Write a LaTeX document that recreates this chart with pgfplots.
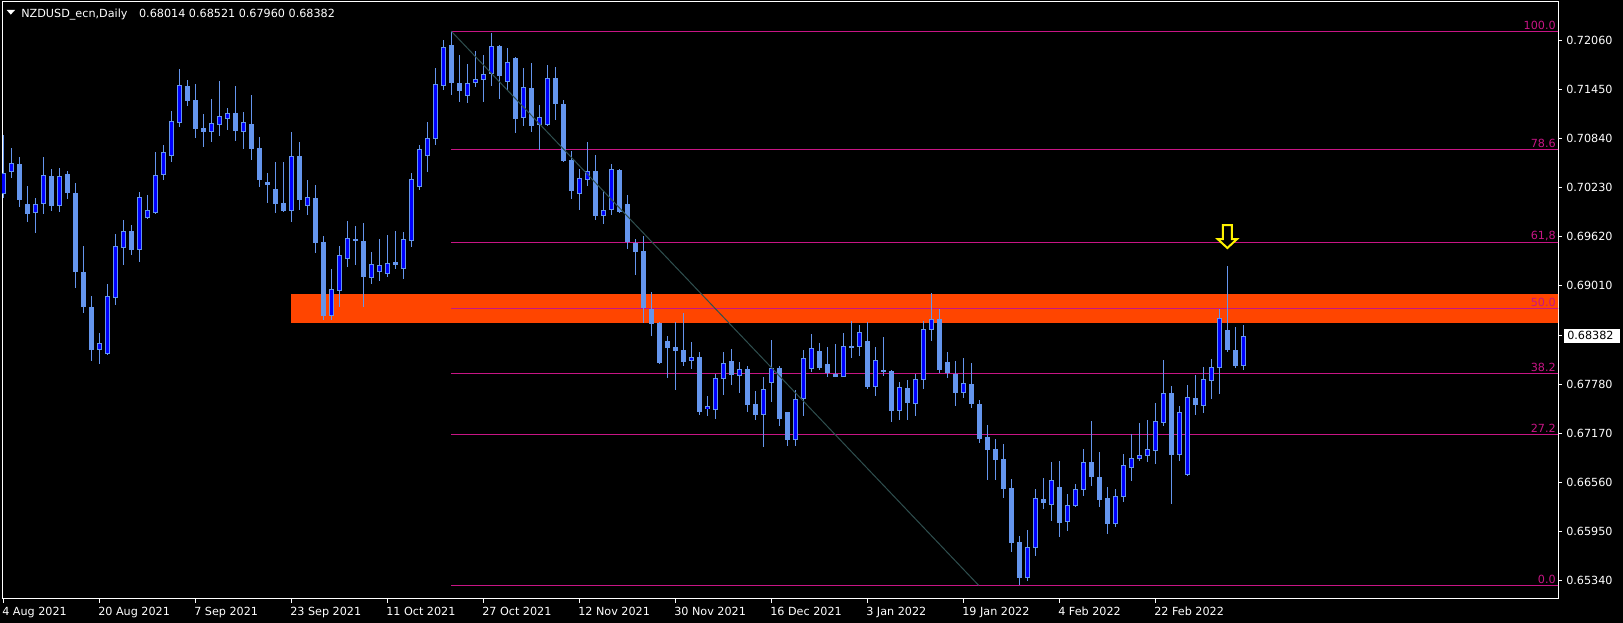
\documentclass[border=0pt]{standalone}
\usepackage{pgfplots}
\pgfplotsset{compat=1.18}
\usepackage{pgfplotstable}
\usepackage{fontspec}
\setmainfont{DejaVu Sans}

\definecolor{wick}{RGB}{100,149,237}
\definecolor{bullfill}{RGB}{0,0,255}
\definecolor{fibo}{RGB}{199,21,133}
\definecolor{zone}{RGB}{255,69,0}
\definecolor{trend}{RGB}{47,79,79}

\newcommand{\mtfont}{\fontsize{8.4}{10}\selectfont}
\tikzset{fibolabel/.style={font=\mtfont, text=fibo, anchor=south east, inner sep=0pt, xshift=-1.5pt, yshift=1.2pt}}
\pgfplotsset{candle/.style={draw=none, mark=none, error bars/.cd, y dir=both, y explicit, error mark=none}}

% daily bars, x = bar index (0 = 4 Aug 2021)
\pgfplotstableread{
x o h l c
0 0.70142 0.70880 0.70100 0.70415
1 0.70415 0.70714 0.70349 0.70527
4 0.69911 0.70092 0.69665 0.70018
5 0.70018 0.70602 0.69898 0.70378
7 0.69993 0.70469 0.69922 0.70378
12 0.68210 0.68413 0.68036 0.68301
13 0.68161 0.69035 0.68150 0.68874
14 0.68857 0.69649 0.68767 0.69495
15 0.69470 0.69823 0.69267 0.69689
17 0.69454 0.70171 0.69305 0.70105
18 0.69852 0.70130 0.69839 0.69943
19 0.69907 0.70668 0.69898 0.70378
20 0.70378 0.70755 0.70324 0.70664
21 0.70615 0.71174 0.70548 0.71050
22 0.71037 0.71700 0.70984 0.71506
26 0.70922 0.71328 0.70793 0.71030
27 0.71009 0.71552 0.70868 0.71117
28 0.71084 0.71216 0.70943 0.71154
30 0.70922 0.71166 0.70706 0.71042
36 0.69935 0.70918 0.69798 0.70619
38 0.69998 0.70321 0.69885 0.70110
41 0.68630 0.69214 0.68582 0.68965
42 0.68941 0.69500 0.68742 0.69388
43 0.69339 0.69813 0.69239 0.69600
46 0.69103 0.69425 0.69029 0.69274
47 0.69177 0.69587 0.69065 0.69264
48 0.69152 0.69636 0.69115 0.69290
50 0.69214 0.69674 0.69090 0.69587
51 0.69558 0.70407 0.69487 0.70329
52 0.70238 0.70756 0.70196 0.70702
53 0.70623 0.71042 0.70420 0.70839
54 0.70834 0.71713 0.70755 0.71510
55 0.71493 0.72061 0.71439 0.71974
58 0.71361 0.71763 0.71277 0.71527
59 0.71522 0.71925 0.71477 0.71572
60 0.71560 0.71875 0.71290 0.71643
61 0.71634 0.72148 0.71489 0.71987
63 0.71543 0.71962 0.71439 0.71788
65 0.71088 0.71713 0.70992 0.71477
67 0.71000 0.71253 0.70693 0.71111
68 0.71004 0.71750 0.70995 0.71589
72 0.70150 0.70458 0.69947 0.70345
73 0.70325 0.70793 0.70249 0.70432
75 0.69877 0.70183 0.69773 0.69947
76 0.69943 0.70519 0.69885 0.70453
86 0.68070 0.68311 0.67970 0.68119
88 0.67473 0.67634 0.67386 0.67510
89 0.67460 0.67908 0.67348 0.67858
90 0.67846 0.68182 0.67647 0.68045
92 0.67883 0.68057 0.67672 0.67970
95 0.67398 0.67871 0.67000 0.67721
96 0.67796 0.68331 0.67560 0.67983
99 0.67087 0.67714 0.67012 0.67602
100 0.67602 0.68207 0.67386 0.68107
101 0.67975 0.68406 0.67937 0.68228
105 0.67871 0.68418 0.67867 0.68257
107 0.68244 0.68518 0.68132 0.68431
109 0.67747 0.68244 0.67635 0.68082
112 0.67452 0.67809 0.67336 0.67747
114 0.67540 0.67908 0.67386 0.67846
115 0.67838 0.68568 0.67722 0.68468
116 0.68460 0.68915 0.68319 0.68592
120 0.67672 0.68107 0.67610 0.67796
128 0.65371 0.65968 0.65340 0.65757
129 0.65748 0.66478 0.65645 0.66366
131 0.66283 0.66814 0.66081 0.66590
133 0.66072 0.66416 0.65956 0.66279
134 0.66267 0.66540 0.66254 0.66478
135 0.66470 0.66975 0.66391 0.66814
139 0.66047 0.66478 0.66005 0.66391
140 0.66383 0.66913 0.66316 0.66776
141 0.66743 0.67158 0.66577 0.66863
142 0.66855 0.67299 0.66826 0.66901
143 0.66892 0.67336 0.66814 0.66975
144 0.66955 0.67547 0.66789 0.67324
145 0.67303 0.68082 0.67261 0.67672
147 0.66905 0.67510 0.66826 0.67435
148 0.66652 0.67771 0.66645 0.67622
150 0.67514 0.67995 0.67423 0.67846
151 0.67825 0.68094 0.67597 0.67995
152 0.67987 0.68716 0.67659 0.68604
155 0.68014 0.68521 0.67960 0.68382
}\bull

\pgfplotstableread{
x o h l c
2 0.70527 0.70602 0.69989 0.70076
3 0.70018 0.70246 0.69798 0.69898
6 0.70366 0.70457 0.69939 0.70001
8 0.70390 0.70428 0.70088 0.70163
9 0.70155 0.70279 0.68981 0.69180
10 0.69176 0.69499 0.68670 0.68744
11 0.68749 0.68874 0.68074 0.68210
16 0.69689 0.69761 0.69392 0.69454
23 0.71489 0.71560 0.71244 0.71307
24 0.71315 0.71514 0.70847 0.70959
25 0.70967 0.71142 0.70731 0.70922
29 0.71154 0.71490 0.70806 0.70930
31 0.71017 0.71378 0.70569 0.70706
32 0.70719 0.70856 0.70234 0.70321
33 0.70296 0.70408 0.70035 0.70258
34 0.70209 0.70545 0.69910 0.70022
35 0.70035 0.70545 0.69922 0.69935
37 0.70619 0.70793 0.69947 0.70074
39 0.70097 0.70258 0.69413 0.69537
40 0.69550 0.69624 0.68582 0.68630
44 0.69587 0.69750 0.69264 0.69562
45 0.69562 0.69787 0.68742 0.69115
49 0.69302 0.69687 0.69214 0.69264
56 0.71999 0.72170 0.71377 0.71527
57 0.71527 0.71875 0.71290 0.71431
62 0.71987 0.71999 0.71328 0.71614
64 0.71838 0.71845 0.70905 0.71079
66 0.71465 0.71775 0.70917 0.70992
69 0.71589 0.71726 0.71066 0.71265
70 0.71265 0.71315 0.70544 0.70557
71 0.70569 0.70681 0.70089 0.70183
74 0.70432 0.70632 0.69823 0.69873
77 0.70445 0.70452 0.69914 0.69927
78 0.70022 0.70130 0.69462 0.69545
79 0.69537 0.69587 0.69139 0.69425
80 0.69438 0.69624 0.68542 0.68729
81 0.68716 0.68928 0.68381 0.68530
82 0.68542 0.68555 0.68032 0.68045
83 0.68319 0.68381 0.67858 0.68231
84 0.68244 0.68555 0.67709 0.68194
85 0.68207 0.68667 0.68007 0.68057
87 0.68119 0.68182 0.67398 0.67435
91 0.68070 0.68219 0.67771 0.67896
93 0.67970 0.68007 0.67435 0.67523
94 0.67535 0.67696 0.67336 0.67398
97 0.67983 0.68007 0.67261 0.67348
98 0.67435 0.67440 0.67012 0.67087
102 0.68194 0.68294 0.67958 0.67983
103 0.68033 0.68244 0.67871 0.67921
104 0.67908 0.68282 0.67867 0.67871
106 0.68257 0.68568 0.68107 0.68232
108 0.68319 0.68555 0.67722 0.67747
110 0.67958 0.68369 0.67884 0.67933
111 0.67946 0.67958 0.67312 0.67448
113 0.67734 0.67834 0.67336 0.67548
117 0.68592 0.68717 0.67921 0.67958
118 0.68058 0.68182 0.67859 0.67921
119 0.67908 0.68065 0.67510 0.67672
121 0.67784 0.68045 0.67486 0.67537
122 0.67537 0.67585 0.67050 0.67100
123 0.67125 0.67274 0.66590 0.66963
124 0.66975 0.67100 0.66590 0.66839
125 0.66851 0.67043 0.66370 0.66482
126 0.66490 0.66602 0.65695 0.65806
127 0.65819 0.65893 0.65290 0.65371
130 0.66353 0.66615 0.66229 0.66304
132 0.66503 0.66826 0.65881 0.66055
136 0.66814 0.67324 0.66515 0.66627
137 0.66627 0.66938 0.66254 0.66341
138 0.66366 0.66503 0.65918 0.66043
146 0.67672 0.67759 0.66291 0.66901
149 0.67610 0.67896 0.67398 0.67523
153 0.68455 0.69251 0.68182 0.68206
154 0.68206 0.68492 0.67983 0.68007
}\bear

\begin{document}
\begin{tikzpicture}
\fill[black] (0,0) rectangle (1217.25pt,467.25pt);
\begin{axis}[
    at={(1.5pt,18pt)}, anchor=south west,
    scale only axis, width=1167pt, height=447.75pt,
    xmin=-0.166, xmax=194.33,
    ymin=0.65111, ymax=0.72534,
    axis line style={white, line width=0.75pt},
    tick style={white, line width=0.75pt},
    tick align=outside, major tick length=3pt,
    xtick pos=bottom, ytick pos=right, yticklabel pos=right,
    xtick={0,12,...,144},
    xticklabels={4 Aug 2021,20 Aug 2021,7 Sep 2021,23 Sep 2021,11 Oct 2021,27 Oct 2021,12 Nov 2021,30 Nov 2021,16 Dec 2021,3 Jan 2022,19 Jan 2022,4 Feb 2022,22 Feb 2022},
    ytick={0.65340,0.65950,0.66560,0.67170,0.67780,0.69010,0.69620,0.70230,0.70840,0.71450,0.72060},
    yticklabels={0.65340,0.65950,0.66560,0.67170,0.67780,0.69010,0.69620,0.70230,0.70840,0.71450,0.72060},
    tick label style={font=\mtfont, text=white, inner sep=0pt},
    xticklabel style={anchor=north west, xshift=-1pt, yshift=-3pt},
    yticklabel style={anchor=west, xshift=3pt},
]
% resistance zone
\addplot[draw=none, fill=zone] coordinates {(35.96,0.68543) (194.5,0.68543) (194.5,0.68903) (35.96,0.68903)} -- cycle;

% fibonacci levels (high 0.72170, low 0.65280)
\pgfplotsinvokeforeach{0.72170,0.70696,0.69538,0.68725,0.67912,0.67154,0.65280}{
  \addplot[fibo, line width=0.75pt] coordinates {(56,#1) (194.5,#1)};
}
\node[fibolabel] at (axis cs:194.33,0.72170) {100.0};
\node[fibolabel] at (axis cs:194.33,0.70696) {78.6};
\node[fibolabel] at (axis cs:194.33,0.69538) {61,8};
\node[fibolabel] at (axis cs:194.33,0.68725) {50.0};
\node[fibolabel] at (axis cs:194.33,0.67912) {38.2};
\node[fibolabel] at (axis cs:194.33,0.67154) {27.2};
\node[fibolabel] at (axis cs:194.33,0.65280) {0.0};

% wicks
\addplot[candle, error bar style={draw=wick, line width=0.75pt}]
  table[x=x, y expr={(\thisrow{h}+\thisrow{l})/2}, y error expr={(\thisrow{h}-\thisrow{l})/2}] {\bull};
\addplot[candle, error bar style={draw=wick, line width=0.75pt}]
  table[x=x, y expr={(\thisrow{h}+\thisrow{l})/2}, y error expr={(\thisrow{h}-\thisrow{l})/2}] {\bear};

% bodies
\addplot[candle, error bar style={draw=wick, line width=3.75pt}]
  table[x=x, y expr={(\thisrow{o}+\thisrow{c})/2}, y error expr={abs(\thisrow{c}-\thisrow{o})/2}] {\bear};
\addplot[candle, error bar style={draw=wick, line width=3.75pt}]
  table[x=x, y expr={(\thisrow{o}+\thisrow{c})/2}, y error expr={abs(\thisrow{c}-\thisrow{o})/2}] {\bull};
\addplot[candle, error bar style={draw=bullfill, line width=2.25pt}]
  table[x=x, y expr={(\thisrow{o}+\thisrow{c})/2}, y error expr={max(abs(\thisrow{c}-\thisrow{o})/2-0.000124,0.00001)}] {\bull};

% fibo trend line
\addplot[trend, line width=0.75pt] coordinates {(56,0.72170) (121.92,0.65280)};

% arrow above the spike
\addplot[draw=yellow, fill=black, line width=1.5pt] coordinates {
  (152.44,0.69761) (153.56,0.69761) (153.56,0.69587) (154.22,0.69587)
  (153,0.69475) (151.78,0.69587) (152.44,0.69587)} -- cycle;

\coordinate (cp) at (axis cs:194.33,0.68382);
\end{axis}

% current price tag
\draw[white, line width=0.75pt] (cp) -- ++(3pt,0);
\node[anchor=west, fill=white, text=black, font=\mtfont, inner xsep=2.25pt, inner ysep=0pt,
      minimum height=10.5pt, text width=37pt, align=left] at ([xshift=4.5pt]cp) {0.68382};

% header
\fill[white] (5pt,459.75pt) -- (11.25pt,459.75pt) -- (8.1pt,456.3pt) -- cycle;
\node[anchor=base west, inner sep=0pt, text=white, font=\mtfont] at (15.75pt,454.3pt)
  {NZDUSD\_ecn,Daily\hspace{6pt} 0.68014 0.68521 0.67960 0.68382};
\end{tikzpicture}
\end{document}
